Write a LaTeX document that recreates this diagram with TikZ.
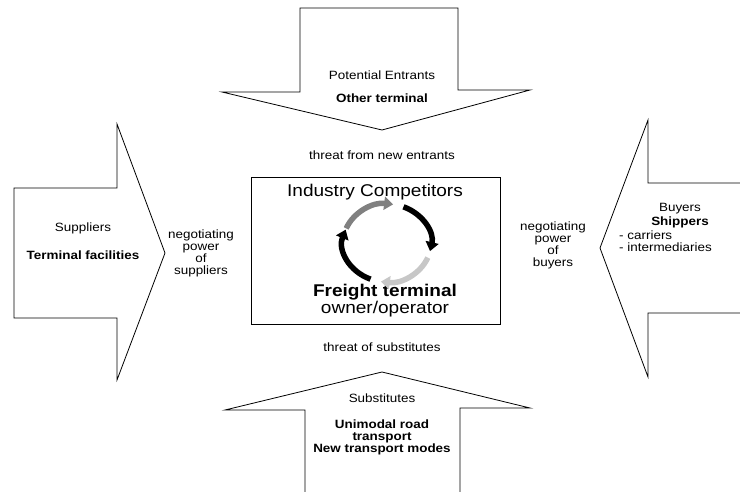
\documentclass[tikz,border=0pt]{standalone}
\usepackage{fontspec}
\setmainfont{Liberation Sans}[FakeStretch=1.12]
\usetikzlibrary{arrows.meta}

\begin{document}
\begin{tikzpicture}[x=1pt,y=-1pt,
  outline/.style={draw=black,line width=0.8pt,line join=miter},
  lbl/.style={font=\fontsize{12}{12}\selectfont,align=center,inner sep=0pt},
  lblb/.style={lbl,font=\fontsize{12}{12}\selectfont\bfseries},
  bigtxt/.style={font=\fontsize{17}{16.5}\selectfont,align=center,inner sep=0pt},
  cyc/.style={line width=5.5pt,-{Triangle[length=9pt,width=13pt]}},
  cycblack/.style={cyc,black},
  cycgray/.style={cyc,black!50},
  cycpale/.style={cyc,black!22}]
\useasboundingbox (0,0) rectangle (740,492);

% the four big arrows
\draw[outline] (300,8) -- (458,8) -- (458,90) -- (530,90) -- (382,130) -- (222,92) -- (300,92) -- cycle;
\draw[outline] (305,492) -- (305,410) -- (225,410) -- (382,372) -- (530,408) -- (460,408) -- (460,492);
\draw[outline] (14,188) -- (117,188) -- (117,124) -- (165,253) -- (117,380) -- (117,318) -- (14,318) -- cycle;
\draw[outline] (740,183) -- (648,183) -- (648,120) -- (600,248) -- (648,377) -- (648,313) -- (740,313);

\node at (382,75) [lbl] (entrants) {Potential Entrants};
\node at (382,98) [lblb] (otherterm) {Other terminal};
\node at (382,155) [lbl] (threatnew) {threat from new entrants};

\node at (83,228) [lbl] (suppliers) {Suppliers};
\node at (83,255) [lblb] (facilities) {Terminal facilities};
\node at (201,253) [lbl] (powersup) {negotiating\\power\\of\\suppliers};

\node at (553,245) [lbl] (powerbuy) {negotiating\\power\\of\\buyers};
\node at (680,209) [lbl] (buyers) {Buyers};
\node at (680,222) [lblb] (shippers) {Shippers};
\node at (619,241.5) [lbl,anchor=west,align=left] (carriers) {- carriers\\- intermediaries};

\node at (382,347) [lbl] (threatsub) {threat of substitutes};
\node at (382,398) [lbl] (subst) {Substitutes};
\node at (382,437) [lblb] (unimodal) {Unimodal road\\transport\\New transport modes};

% rivalry box in the middle
\node at (375.5,250.5) [outline,minimum width=249pt,minimum height=147pt] (industry) {};
\node at (375,197) [bigtxt,anchor=base] (compet) {Industry Competitors};
\node at (385,313) [bigtxt,anchor=base] (freight) {\textbf{Freight terminal}\\owner/operator};

% cycle of arrows
\coordinate (cyc) at (387,243);
\draw[cycgray] ([shift={(158:44pt and 39pt)}]cyc) arc[start angle=158,end angle=82,x radius=44pt,y radius=39pt];
\draw[cycblack] ([shift={(68:44pt and 39pt)}]cyc) arc[start angle=68,end angle=-12,x radius=44pt,y radius=39pt];
\draw[cycpale] ([shift={(-22:44pt and 39pt)}]cyc) arc[start angle=-22,end angle=-98,x radius=44pt,y radius=39pt];
\draw[cycblack] ([shift={(-112:44pt and 39pt)}]cyc) arc[start angle=-112,end angle=-200,x radius=44pt,y radius=39pt];
\end{tikzpicture}
\end{document}
